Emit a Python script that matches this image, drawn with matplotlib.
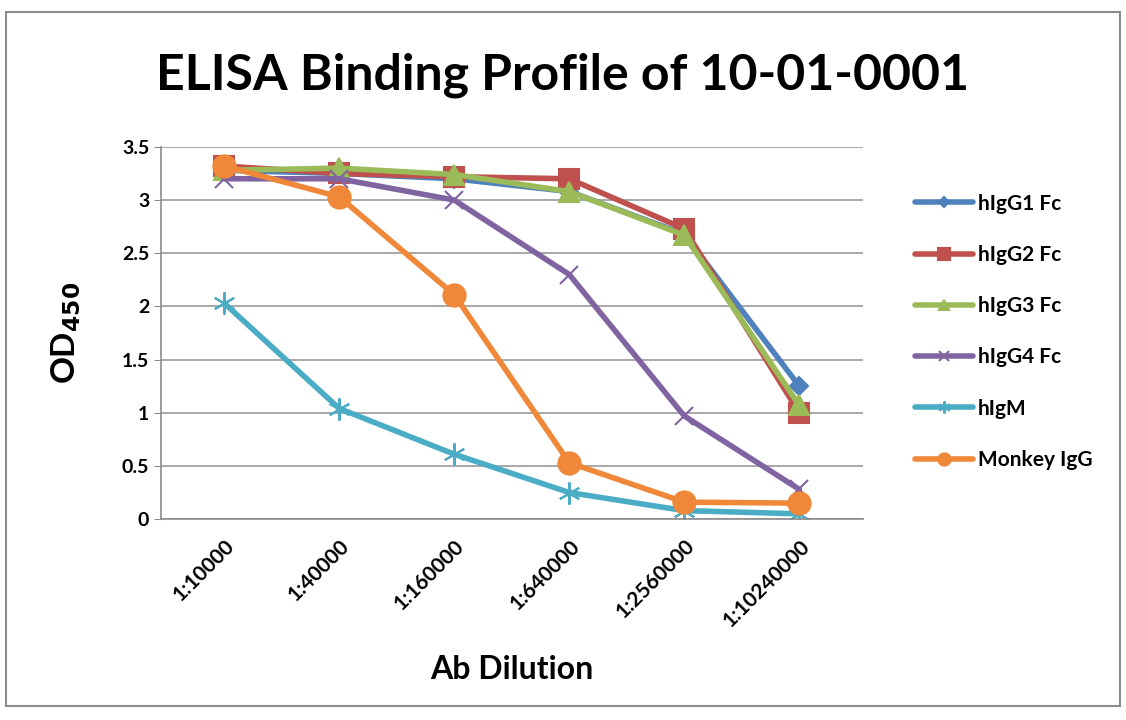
import matplotlib.pyplot as plt
from matplotlib.patches import Rectangle

dilutions = ["1:10000", "1:40000", "1:160000", "1:640000", "1:2560000", "1:10240000"]
higg1 = [3.28, 3.25, 3.20, 3.08, 2.68, 1.25]
higg2 = [3.32, 3.25, 3.22, 3.20, 2.73, 1.00]
higg3 = [3.28, 3.30, 3.24, 3.08, 2.67, 1.07]
higg4 = [3.20, 3.20, 3.00, 2.30, 0.97, 0.28]
higm = [2.03, 1.04, 0.61, 0.25, 0.08, 0.05]
monkey = [3.32, 3.03, 2.11, 0.53, 0.16, 0.15]

names = ["hIgG1 Fc", "hIgG2 Fc", "hIgG3 Fc", "hIgG4 Fc", "hIgM", "Monkey IgG"]
series = [higg1, higg2, higg3, higg4, higm, monkey]
colors = ["#4F81BD", "#C0504D", "#9BBB59", "#8064A2", "#4BACC6", "#F0883A"]
markers = ["D", "s", "^", "x", (6, 2, 0), "o"]
msizes = [9, 15, 14, 13, 16, 16]

plt.rcParams["font.family"] = ["Lato", "DejaVu Sans"]
plt.rcParams["font.weight"] = "bold"

fig = plt.figure(figsize=(11.26, 7.2), dpi=100)
fig.patches.append(Rectangle((0.005, 0.02), 0.99, 0.963, transform=fig.transFigure,
                             fill=False, edgecolor="#8c8c8c", linewidth=1.5))
ax = fig.add_axes([0.143, 0.279, 0.623, 0.517])

x = list(range(len(dilutions)))
handles = []
for vals, name, c, m, ms in zip(series, names, colors, markers, msizes):
    h, = ax.plot(x, vals, color=c, linewidth=4, marker=m, markersize=ms,
                 markeredgewidth=1.5, markeredgecolor=c, label=name,
                 solid_joinstyle="round", solid_capstyle="round")
    handles.append(h)

ax.set_xlim(-0.55, 5.55)
ax.set_ylim(0, 3.5)
ax.set_yticks([0, 0.5, 1, 1.5, 2, 2.5, 3, 3.5])
ax.set_yticklabels(["0", "0.5", "1", "1.5", "2", "2.5", "3", "3.5"])
ax.set_xticks(x)
ax.set_xticklabels(dilutions, rotation=45, ha="right", rotation_mode="anchor")
ax.tick_params(axis="x", length=0, pad=12, labelsize=15)
ax.tick_params(axis="y", length=5, color="#8c8c8c", labelsize=14)
ax.grid(axis="y", color="#999999", linewidth=1.2)
ax.set_axisbelow(True)
for s in ["top", "right"]:
    ax.spines[s].set_visible(False)
for s in ["left", "bottom"]:
    ax.spines[s].set_color("#8c8c8c")
    ax.spines[s].set_linewidth(1.2)

ax.set_xlabel("Ab Dilution", fontsize=23, fontweight="bold", labelpad=18)
ax.set_ylabel("OD$_{\\mathbf{450}}$", fontsize=24, fontweight="bold", labelpad=28)
fig.text(0.5, 0.895, "ELISA Binding Profile of 10-01-0001", ha="center", va="center",
         fontsize=36, fontweight="bold")

leg = fig.legend(handles=handles, loc="upper left", bbox_to_anchor=(0.796, 0.757),
                 frameon=False, fontsize=15, labelspacing=1.5, handlelength=2.8,
                 handletextpad=0.2, markerscale=0.55)

fig.savefig("out.png", dpi=100)
